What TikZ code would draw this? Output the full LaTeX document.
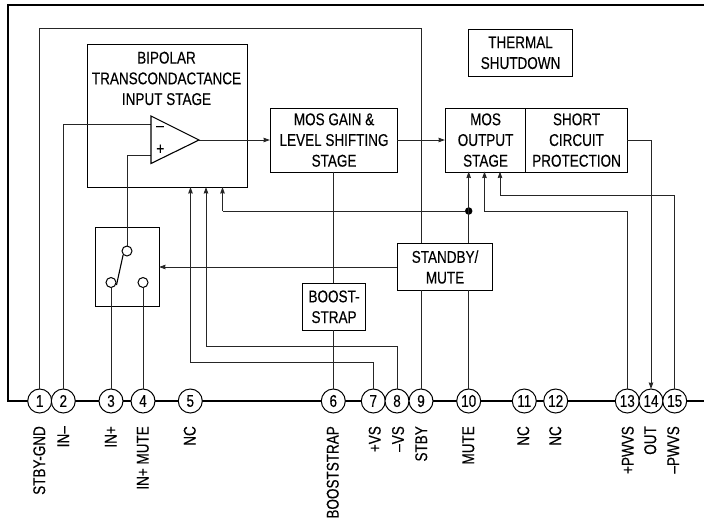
\documentclass[tikz,border=0pt]{standalone}
\usepackage{fontspec}
\setmainfont[FakeStretch=0.795,FakeBold=0.25]{Liberation Sans}
\usetikzlibrary{arrows.meta}
\tikzset{
  wire/.style={line width=1pt,draw=black!85},
  tipwire/.style={wire,-{Stealth[length=6.5pt,width=4.5pt,inset=0.5pt]}},
  outline/.style={line width=1.9pt,draw=black},
  blockbox/.style={draw=black,line width=1.1pt,fill=none,inner sep=0pt,anchor=north west,align=center,
    font=\fontsize{17}{20.7}\selectfont},
  plain/.style={inner sep=0pt,align=center,font=\fontsize{17}{20.7}\selectfont},
  pinc/.style={circle,draw=black,line width=1pt,fill=white,minimum size=24pt,inner sep=0pt,
    font=\fontsize{17}{18}\selectfont},
  pinlabel/.style={rotate=90,anchor=east,inner sep=0pt,text height=12.2pt,text depth=0pt,
    font=\fontsize{17}{18}\selectfont},
  contact/.style={circle,draw=black,line width=1pt,fill=white,minimum size=10pt,inner sep=0pt},
  dot/.style={circle,fill=black,minimum size=7.5pt,inner sep=0pt}
}
\begin{document}
\begin{tikzpicture}[x=1pt,y=-1pt]
\useasboundingbox (0,0) rectangle (704,525);
% corners of the package outline
\coordinate (ntr) at (704,5);
\coordinate (ntl) at (8,5);
\coordinate (nbl) at (8,401);
\coordinate (nbr) at (704,401);
\draw[outline,line join=miter] (ntr) -- (ntl) -- (nbl) -- (nbr);
% blocks
\node[blockbox,minimum width=159.5pt,minimum height=143pt] (input) at (87,44) {};
\node[plain,anchor=north] (inputtext) at (166.5,51.5) {BIPOLAR\\TRANSCONDACTANCE\\INPUT STAGE};
\node[blockbox,minimum width=127pt,minimum height=64pt] (gain) at (270,107.5) {MOS GAIN \&\\LEVEL SHIFTING\\STAGE};
\node[blockbox,minimum width=80pt,minimum height=64pt] (output) at (445,107.5) {MOS\\OUTPUT\\STAGE};
\node[blockbox,minimum width=102pt,minimum height=64pt] (short) at (525,107.5) {SHORT\\CIRCUIT\\PROTECTION};
\node[blockbox,minimum width=104pt,minimum height=47.5pt] (thermal) at (468,28.5) {THERMAL\\SHUTDOWN};
\node[blockbox,minimum width=95pt,minimum height=47pt] (standby) at (397,243) {STANDBY/\\MUTE};
\node[blockbox,minimum width=63pt,minimum height=47.5pt] (boost) at (302,282.5) {BOOST-\\STRAP};
\node[blockbox,minimum width=64pt,minimum height=79pt] (switch) at (95,227) {};
% named points on the connectors
\coordinate (t9) at (421,28.5);
\coordinate (s9) at (421,243);
\coordinate (s9b) at (421,290);
\coordinate (ampa) at (151,116);
\coordinate (ampb) at (151,163.5);
\coordinate (ampo) at (199,140);
\coordinate (ampm) at (151,124);
\coordinate (ampp) at (151,155);
\coordinate (p3k) at (127,155);
\coordinate (gainin) at (270,140);
\coordinate (gainout) at (397,140);
\coordinate (outin) at (445,140);
\coordinate (shortout) at (627,140);
\coordinate (k14) at (651,140);
\coordinate (e14) at (651,389);
\coordinate (stin) at (397,267);
\coordinate (swin) at (159,267);
\coordinate (i7) at (190.5,187);
\coordinate (i8) at (206,187);
\coordinate (i0) at (222.5,187);
\coordinate (k7) at (190.5,362);
\coordinate (k8) at (206,346);
\coordinate (k0) at (222.5,211);
\coordinate (o1) at (468.7,171.5);
\coordinate (o2) at (484.5,171.5);
\coordinate (o3) at (500,171.5);
\coordinate (k13) at (484.5,211);
\coordinate (k15) at (500,195);
\coordinate (st10) at (468.7,243);
\coordinate (sb10) at (468.7,290);
\coordinate (g6) at (333.3,171.5);
\coordinate (b6t) at (333.3,282.5);
\coordinate (b6b) at (333.3,330);
% switch contacts
\node[contact] (sw1) at (127,251) {};
\node[contact] (sw2) at (111,282.5) {};
\node[contact] (sw3) at (143,282.5) {};
% junction
\node[dot] (junc) at (468.7,211) {};
% pins
\foreach \n/\x/\t in {p1/39.7/1,p2/63.3/2,p3/111/3,p4/143/4,p5/190.3/5,p6/333.3/6,p7/373.3/7,p8/397/8,p9/421/9,p10/468.7/10,p11/524.3/11,p12/555.7/12,p13/627.3/13,p14/651/14,p15/674.7/15}
  \node[pinc] (\n) at (\x,401) {\t};
% connectors
\draw[wire] (p1.north) |- (t9) -- (s9);
\draw[wire] (s9b) -- (p9.north);
\draw[wire] (p2.north) |- (ampm);
\draw[wire] (ampp) -- (p3k) -- (sw1.north);
\draw[tipwire] (ampo) -- (gainin);
\draw[tipwire] (gainout) -- (outin);
\draw[tipwire] (shortout) -- (k14) -- (e14);
\draw[tipwire] (stin) -- (swin);
\draw[tipwire] (p7.north) |- (k7) -- (i7);
\draw[tipwire] (p8.north) |- (k8) -- (i8);
\draw[wire] (g6) -- (b6t);
\draw[wire] (b6b) -- (p6.north);
\draw[tipwire] (st10) -- (o1);
\draw[tipwire] (k0) -- (i0);
\draw[wire] (k0) -- (junc);
\draw[wire] (sb10) -- (p10.north);
\draw[tipwire] (p13.north) |- (k13) -- (o2);
\draw[tipwire] (p15.north) |- (k15) -- (o3);
\draw[wire] (sw2.south) -- (p3.north);
\draw[wire] (sw3.south) -- (p4.north);
% amplifier
\draw[line width=1.1pt,line join=miter] (ampa) -- (ampo) -- (ampb) -- cycle;
\node[plain] (minus) at (160,128.5) {–};
\node[plain] (plus) at (160.3,149.5) {+};
% switch blade
\draw[line width=1.1pt] (sw1.south west) -- (116.5,285);
% pin names
\foreach \n/\x/\t in {l1/39/STBY-GND,l2/63/IN–,l3/110.5/IN+,l4/142.5/IN+ MUTE,l5/189.5/NC,l6/332.5/BOOSTSTRAP,l7/374.5/+VS,l8/397.8/–VS,l9/421/STBY,l10/468/MUTE,l11/523/NC,l12/555/NC,l13/627.5/+PWVS,l14/650/OUT,l15/673/–PWVS}
  \node[pinlabel] (\n) at (\x,426) {\t};
\end{tikzpicture}
\end{document}
